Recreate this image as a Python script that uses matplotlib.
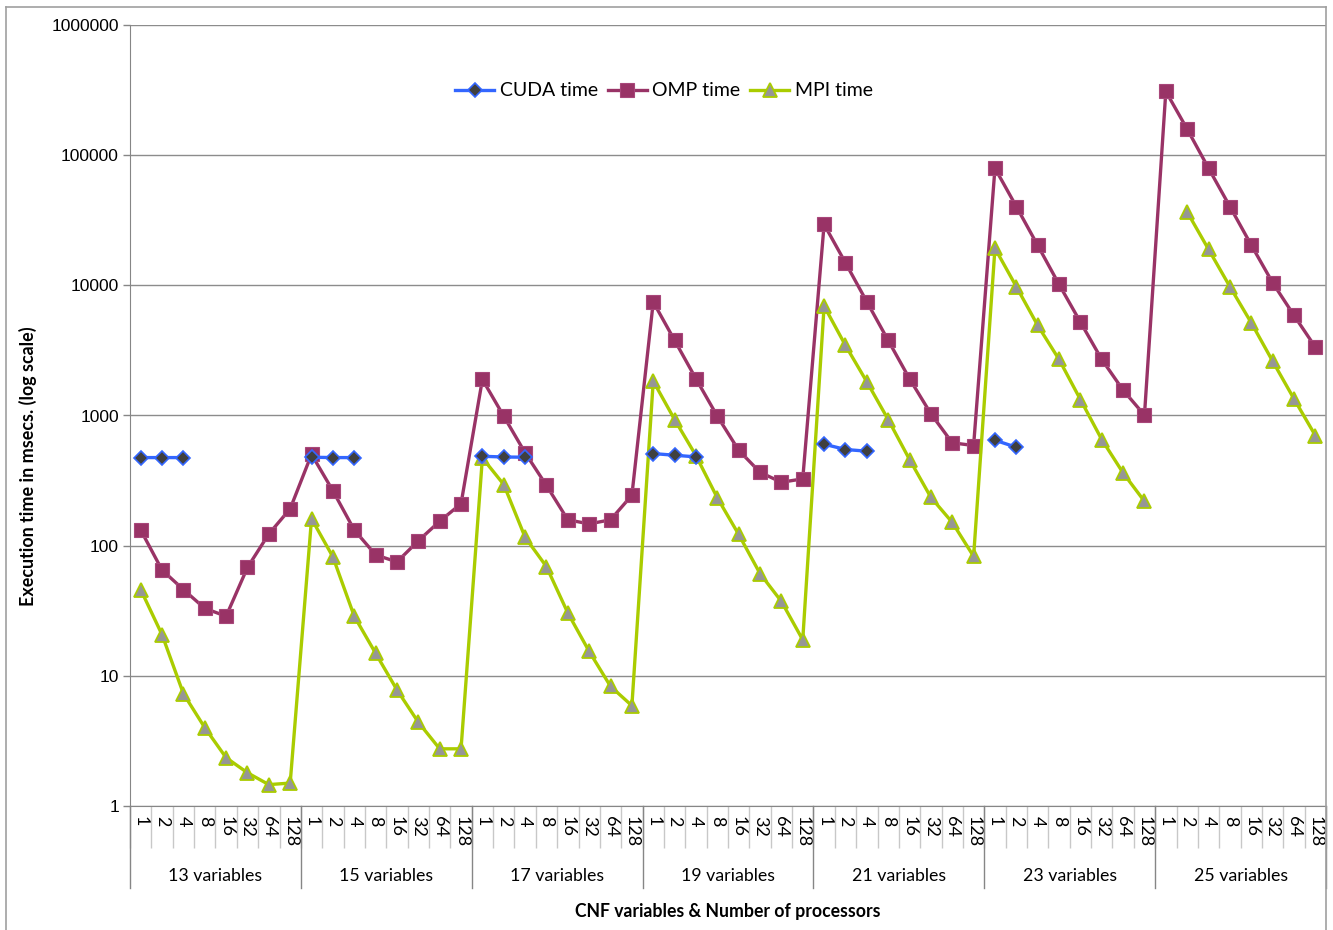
import numpy as np
import matplotlib
matplotlib.use("Agg")
import matplotlib.pyplot as plt
from matplotlib.lines import Line2D

groups = ["13 variables", "15 variables", "17 variables", "19 variables",
          "21 variables", "23 variables", "25 variables"]
processors = ["1", "2", "4", "8", "16", "32", "64", "128"]
nan = np.nan

cuda_time = [
    475, 475, 475, nan, nan, nan, nan, nan,
    478, 475, 475, nan, nan, nan, nan, nan,
    486, 480, 478, nan, nan, nan, nan, nan,
    510, 495, 481, nan, nan, nan, nan, nan,
    602, 548, 532, nan, nan, nan, nan, nan,
    646, 570, nan, nan, nan, nan, nan, nan,
    nan, nan, nan, nan, nan, nan, nan, nan,
]
omp_time = [
    132, 65, 46, 33, 28.7, 68, 123, 192,
    503, 264, 132, 85, 75, 109, 154, 210,
    1892, 988, 517, 290, 158, 147, 158, 244,
    7450, 3776, 1915, 988, 541, 366, 307, 326,
    29400, 14900, 7480, 3776, 1915, 1031, 617, 588,
    79400, 40300, 20300, 10170, 5220, 2697, 1566, 1006,
    309000, 158500, 79400, 40300, 20400, 10480, 5880, 3354,
]
mpi_time = [
    46, 20.7, 7.3, 4.0, 2.35, 1.80, 1.46, 1.50,
    161, 82, 28.7, 14.9, 7.8, 4.4, 2.75, 2.75,
    472, 295, 116, 69, 30.4, 15.4, 8.3, 5.9,
    1836, 931, 492, 233, 122, 61, 37.3, 18.9,
    6930, 3455, 1815, 931, 459, 235, 151, 82.7,
    19260, 9770, 4925, 2697, 1327, 654, 362, 219,
    nan, 36600, 18900, 9770, 5160, 2617, 1343, 702,
]

W, H = 1333, 930
fig = plt.figure(figsize=(W / 100, H / 100), dpi=100)
L, R, T, B = 130, 1326, 25, 806
ax = fig.add_axes([L / W, (H - B) / H, (R - L) / W, (B - T) / H])

n = len(groups) * len(processors)
x = np.arange(n)

ax.plot(x, omp_time, color="#993366", lw=2.4, marker="s", ms=9.5,
        mfc="#993366", mec="#A8477A", mew=0.8, label="OMP time", zorder=3)
ax.plot(x, mpi_time, color="#AACC00", lw=2.4, marker="^", ms=10,
        mfc="#969696", mec="#AACC00", mew=1.3, label="MPI time", zorder=4)
ax.plot(x, cuda_time, color="#3366FF", lw=2.4, marker="D", ms=7.5,
        mfc="#404040", mec="#3366FF", mew=1.2, label="CUDA time", zorder=5)

ax.set_yscale("log")
ax.set_ylim(1, 1e6)
ax.set_xlim(-0.5, n - 0.5)
ax.set_yticks([1, 10, 100, 1000, 10000, 100000, 1000000])
ax.set_yticklabels(["1", "10", "100", "1000", "10000", "100000", "1000000"],
                   family="Liberation Sans", fontsize=12.5)
ax.yaxis.set_minor_locator(matplotlib.ticker.NullLocator())
ax.tick_params(axis="y", which="major", length=5, width=1, color="#868686", pad=3)
ax.grid(axis="y", color="#8C8C8C", lw=1)
ax.set_axisbelow(True)

ax.set_xticks(x)
ax.set_xticklabels(processors * len(groups), rotation=-90, family="Lato",
                   fontsize=13)
ax.tick_params(axis="x", which="major", length=0, pad=7)
ax.set_xticks(np.arange(n + 1) - 0.5, minor=True)
ax.tick_params(axis="x", which="minor", length=30, width=1, color="#C8C8C8")

for s in ["top", "right"]:
    ax.spines[s].set_visible(False)
ax.spines["left"].set_color("#868686")
ax.spines["bottom"].set_color("#868686")

ph = B - T
xt = ax.get_xaxis_transform()
for g in range(len(groups) + 1):
    xb = g * len(processors) - 0.5
    ax.add_line(Line2D([xb, xb], [0, -82 / ph], transform=xt, color="#868686",
                       lw=1, clip_on=False))
for g, name in enumerate(groups):
    xc = g * len(processors) + (len(processors) - 1) / 2
    ax.text(xc, -(876 - B) / ph, name, transform=xt, ha="center", va="center",
            family="Lato", fontsize=12.8)

fig.text((L + R) / 2 / W, 1 - 911 / H, "CNF variables & Number of processors",
         ha="center", va="center", family="Lato", fontweight="bold", fontsize=12.7)
fig.text(28 / W, 1 - 466 / H, "Execution time in msecs. (log scale)",
         ha="center", va="center", rotation=90, family="Lato",
         fontweight="bold", fontsize=12.9)

h, l = ax.get_legend_handles_labels()
order = [2, 0, 1]
leg = ax.legend([h[i] for i in order], [l[i] for i in order], ncol=3,
                loc="center", bbox_to_anchor=(664 / W, 1 - 91 / H),
                bbox_transform=fig.transFigure, frameon=False,
                prop={"family": "Lato", "size": 14}, handlelength=2.0,
                handletextpad=0.3, columnspacing=0.5)

# chart area border
bc = "#A0A0A0"
fig.add_artist(Line2D([6 / W, 6 / W], [0, 1 - 7 / H], transform=fig.transFigure, color=bc, lw=1.2))
fig.add_artist(Line2D([6 / W, 1326 / W], [1 - 7 / H, 1 - 7 / H], transform=fig.transFigure, color=bc, lw=1.2))
fig.add_artist(Line2D([1326 / W, 1326 / W], [0, 1 - 7 / H], transform=fig.transFigure, color=bc, lw=1.2))

fig.savefig("out.png", dpi=100)
